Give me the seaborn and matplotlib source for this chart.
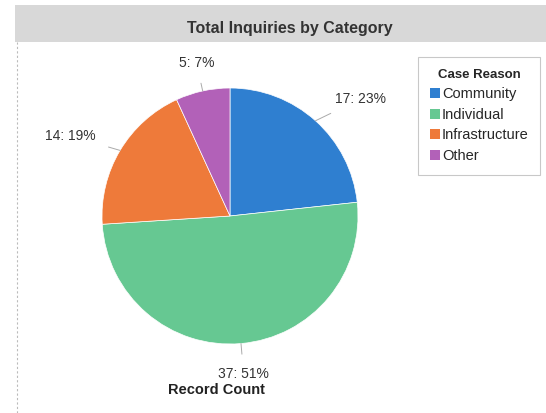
import matplotlib.pyplot as plt
import numpy as np
import seaborn as sns
from matplotlib.patches import Rectangle, Patch
from matplotlib.lines import Line2D

sns.set_style("white")
plt.rcParams['font.family'] = ['Liberation Sans', 'DejaVu Sans']

categories = ["Community", "Individual", "Infrastructure", "Other"]
counts = [17, 37, 14, 5]
percents = [23, 51, 19, 7]
colors = ["#2f7fd0", "#66c892", "#ee7a3a", "#b261b8"]

W, H = 546, 413
fig = plt.figure(figsize=(W / 100, H / 100), dpi=100)
fig.patch.set_facecolor("white")

# title banner
fig.patches.append(Rectangle((15 / W, 1 - 42 / H), 1, 37 / H, transform=fig.transFigure,
                             facecolor="#d8d8d8", edgecolor="none", zorder=0))
fig.text(290 / W, 1 - 28 / H, "Total Inquiries by Category", ha="center", va="center",
         fontsize=11.5, fontweight="bold", color="#333333")
fig.lines.append(Line2D([17 / W, 17 / W], [0.0, 1 - 42 / H], transform=fig.transFigure,
                        color="#bbbbbb", lw=0.8, ls=(0, (2, 2))))

# pie axes: center ~ (230, 216), radius ~128 px
cx, cy, r = 230, 216, 128
ax = fig.add_axes([(cx - r) / W, 1 - (cy + r) / H, 2 * r / W, 2 * r / H])
wedges, _ = ax.pie(counts, colors=colors, startangle=90, counterclock=False,
                   wedgeprops=dict(linewidth=0.5, edgecolor="white"))
ax.set_xlim(-1, 1)
ax.set_ylim(-1, 1)
ax.axis("off")

total = sum(counts)
cum = np.cumsum([0] + counts)
label_dist = [1.23, 1.24, 1.22, 1.22]
for i, w in enumerate(wedges):
    mid = np.deg2rad(90 - (cum[i] + counts[i] / 2) / total * 360)
    x0, y0 = np.cos(mid), np.sin(mid)
    d = label_dist[i]
    tx, ty = d * x0, d * y0
    ha = "center"
    if x0 > 0.3:
        ha = "left"
    elif x0 < -0.3:
        ha = "right"
    ax.annotate(f"{counts[i]}: {percents[i]}%", xy=(x0, y0), xytext=(tx, ty),
                ha=ha, va="center", fontsize=10, color="#333333", annotation_clip=False,
                arrowprops=dict(arrowstyle="-", color="#aaaaaa", lw=0.7, shrinkA=7, shrinkB=0))

fig.text(216 / W, 1 - 390 / H, "Record Count", ha="center", va="center",
         fontsize=10.5, fontweight="bold", color="#222222")

handles = [Patch(facecolor=c, edgecolor="none") for c in colors]
leg = fig.legend(handles, categories, title="Case Reason", loc="upper left",
                 bbox_to_anchor=(418 / W, 1 - 57 / H), fontsize=10.5, frameon=True,
                 fancybox=False, handlelength=0.7, handleheight=0.7, handletextpad=0.15,
                 labelspacing=0.45, borderpad=0.8, borderaxespad=0,
                 title_fontproperties={"weight": "bold", "size": 9.5})
leg.get_frame().set_edgecolor("#bbbbbb")
leg.get_frame().set_linewidth(0.8)

fig.savefig("out.png", dpi=100)
